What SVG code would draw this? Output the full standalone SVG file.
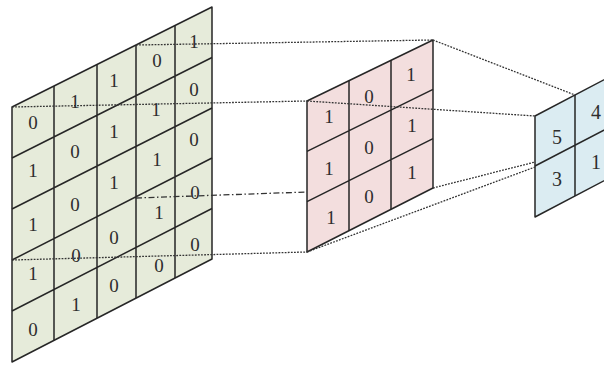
<svg xmlns="http://www.w3.org/2000/svg" width="604" height="365" viewBox="0 0 604 365">
<style>
.grid{stroke:#262626;stroke-width:1.5;stroke-linejoin:round}
.g{fill:#e6ebda}
.p{fill:#f3dede}
.b{fill:#dbecf2}
.ln{fill:none;stroke:#262626;stroke-width:1.5}
.t{font-family:"Liberation Serif","Times New Roman",serif;font-size:19px;fill:#2e2e2e;text-anchor:middle}
.dot{fill:none;stroke:#333;stroke-width:1.3;stroke-dasharray:1.8 1.3}
.dd{fill:none;stroke:#333;stroke-width:1.3;stroke-dasharray:6 2.5 1.5 2.5}
</style>
<rect width="604" height="365" fill="#ffffff"/>
<g id="input">
<polygon class="grid g" points="12,107 212,7 212,259 12,362"/>
<path class="ln" d="M12,158 L212,57.5 M12,209 L212,108 M12,260 L212,158 M12,311 L212,208.5 M54,86 L54,340.5 M97,64.5 L97,318 M136,45 L136,298 M175,25.5 L175,278"/>
<g class="t">
<text x="33" y="129">0</text><text x="75" y="108">1</text><text x="114" y="87">1</text><text x="157" y="67">0</text><text x="194" y="48">1</text>
<text x="33" y="177">1</text><text x="75" y="158">0</text><text x="114" y="138">1</text><text x="156" y="116">1</text><text x="194" y="96">0</text>
<text x="33" y="231">1</text><text x="75" y="211">0</text><text x="114" y="189">1</text><text x="157" y="166">1</text><text x="194" y="146">0</text>
<text x="33" y="280">1</text><text x="76" y="262">0</text><text x="114" y="244">0</text><text x="159" y="219">1</text><text x="195" y="199">0</text>
<text x="33" y="336">0</text><text x="76" y="311">1</text><text x="114" y="292">0</text><text x="159" y="272">0</text><text x="195" y="251">0</text>
</g>
</g>
<g id="kernel">
<polygon class="grid p" points="307,101 433,40 433,188 307,252"/>
<path class="ln" d="M307,151.3 L433,89.3 M307,201.7 L433,138.7 M349,80.7 L349,230.7 M391,60.3 L391,209.3"/>
<g class="t">
<text x="329" y="123">1</text><text x="369" y="103">0</text><text x="411" y="81">1</text>
<text x="329" y="175">1</text><text x="369" y="154">0</text><text x="412" y="132">1</text>
<text x="331" y="224">1</text><text x="369" y="203">0</text><text x="412" y="179">1</text>
</g>
</g>
<g id="output">
<polygon class="grid b" points="535,116 615,74 615,175 535,217"/>
<path class="ln" d="M535,166 L615,124.5 M575,95 L575,196"/>
<g class="t" style="font-size:20px">
<text x="557" y="144">5</text><text x="596" y="119">4</text>
<text x="557" y="186">3</text><text x="596" y="169">1</text>
</g>
</g>
<g id="connectors">
<line class="dot" x1="136" y1="45" x2="433" y2="40"/>
<line class="dot" x1="12" y1="107" x2="307" y2="101"/>
<line class="dd" x1="136" y1="198" x2="307" y2="192"/>
<line class="dot" x1="12" y1="260" x2="307" y2="252"/>
<line class="dot" x1="433" y1="40" x2="575" y2="95"/>
<line class="dot" x1="307" y1="101" x2="535" y2="116"/>
<line class="dot" x1="433" y1="188" x2="535" y2="162"/>
<line class="dot" x1="307" y1="252" x2="535" y2="167"/>
</g>
</svg>
